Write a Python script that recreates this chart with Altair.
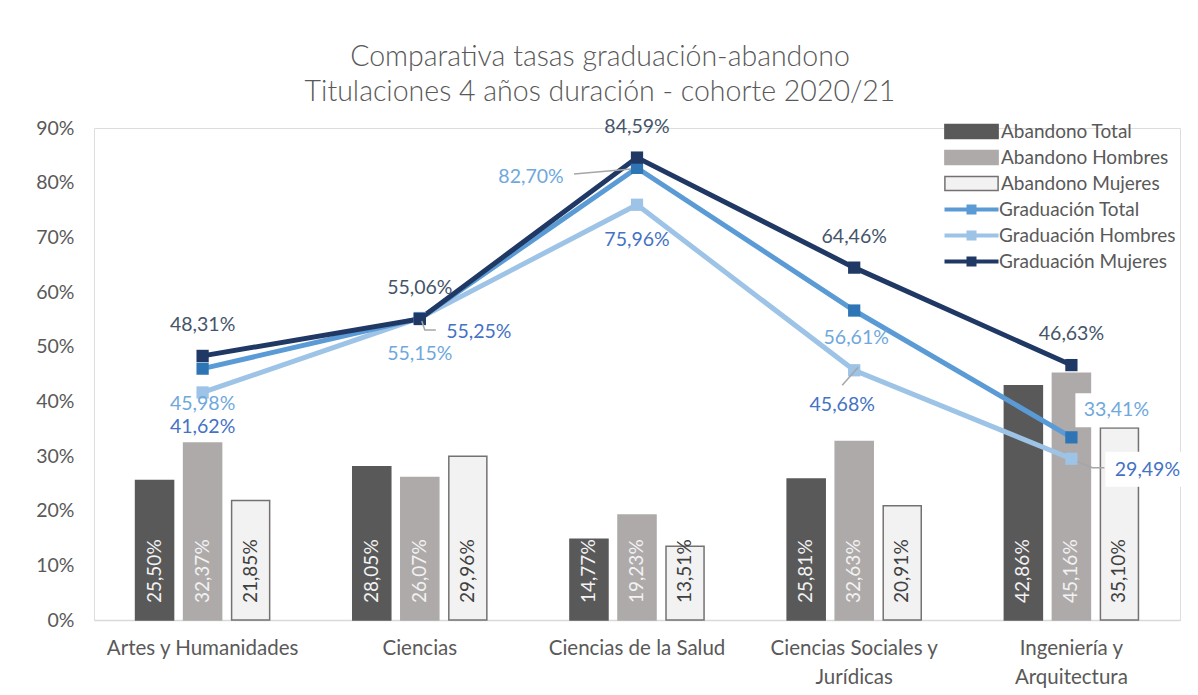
import altair as alt
import pandas as pd

categorias = ["Artes y Humanidades", "Ciencias", "Ciencias de la Salud",
              "Ciencias Sociales y Jurídicas", "Ingeniería y Arquitectura"]

abandono_total = [25.50, 28.05, 14.77, 25.81, 42.86]
abandono_hombres = [32.37, 26.07, 19.23, 32.63, 45.16]
abandono_mujeres = [21.85, 29.96, 13.51, 20.91, 35.10]

graduacion_total = [45.98, 55.15, 82.70, 56.61, 33.41]
graduacion_hombres = [41.62, 55.25, 75.96, 45.68, 29.49]
graduacion_mujeres = [48.31, 55.06, 84.59, 64.46, 46.63]

series_bar = ["Abandono Total", "Abandono Hombres", "Abandono Mujeres"]
series_line = ["Graduación Total", "Graduación Hombres", "Graduación Mujeres"]

FONT = "Lato"
TXT = "#595959"

# label placement per line point (style only)
label_place = {
    "Graduación Mujeres": ["above"] * 5,
    "Graduación Total": ["below", "below", "left", "below_s", "upright"],
    "Graduación Hombres": ["below", "right", "below", "below_l", "farright"],
}
offsets = {
    "above": (0, -31),
    "below": (0, 35),
    "below_s": (2, 27),
    "below_l": (-12, 35),
    "left": (-106, 9),
    "right": (59, 14),
    "upright": (45, -27),
    "farright": (76, 11),
}
# leader lines and label boxes drawn as symbol paths relative to the point (size=4 -> 1 unit = 1 px)
leader_paths = {
    "left": "M-63,6L-6,1",
    "right": "M2,3L5,12H16",
    "below_l": "M-12,15L4,-3",
    "farright": "M6,3L21,9H33",
}
box_paths = {
    "upright": "M4,-44H86V-10H4Z",
    "farright": "M34,-7H118V28H34Z",
}

rows = []
for serie, vals in zip(series_bar, [abandono_total, abandono_hombres, abandono_mujeres]):
    for c, v in zip(categorias, vals):
        rows.append({"cat": c, "serie": serie, "v": v})
bars = pd.DataFrame(rows)

draw_order = ["Graduación Hombres", "Graduación Total", "Graduación Mujeres"]
vals_by = dict(zip(series_line, [graduacion_total, graduacion_hombres, graduacion_mujeres]))
rows = []
for serie in draw_order:
    for c, v, p in zip(categorias, vals_by[serie], label_place[serie]):
        rows.append({"cat": c, "serie": serie, "v": v, "place": p})
lines = pd.DataFrame(rows)

label_expr = "replace(format(datum.v, '.2f'), '.', ',') + '%'"

x_scale = alt.Scale(domain=categorias, paddingInner=0, paddingOuter=0)
y_scale = alt.Scale(domain=[0, 90], nice=False)
xoff_scale = alt.Scale(domain=series_bar, paddingInner=0.208, paddingOuter=0.865)

x_axis = alt.Axis(
    title=None, labelAngle=0, ticks=False, domainColor="#D9D9D9", domainWidth=1.5,
    labelFont=FONT, labelFontSize=20.5, labelColor=TXT, labelPadding=18,
    labelLineHeight=29, labelLimit=300,
    labelExpr="datum.label == 'Ciencias Sociales y Jurídicas' ? ['Ciencias Sociales y', 'Jurídicas'] : "
              "datum.label == 'Ingeniería y Arquitectura' ? ['Ingeniería y', 'Arquitectura'] : datum.label",
)
y_axis = alt.Axis(
    title=None, values=list(range(0, 91, 10)), labelExpr="datum.value + '%'", grid=False,
    domain=False, ticks=False, labelFont=FONT, labelFontSize=19.5,
    labelColor=TXT, labelPadding=20,
)

bar_legend = alt.Legend(
    title=None, orient="none", legendX=848, legendY=-6,
    symbolType="M-3.8,-1H3.8V1H-3.8Z", symbolSize=196,
    symbolStrokeWidth=1.5, symbolOpacity=1, symbolOffset=20, labelOffset=20,
    labelFont=FONT, labelFontSize=19, labelColor=TXT, rowPadding=5,
    labelLimit=300,
)
bar_layer = alt.Chart(bars).mark_bar(strokeWidth=1.5).encode(
    x=alt.X("cat:N", scale=x_scale, axis=x_axis, sort=categorias),
    xOffset=alt.XOffset("serie:N", sort=series_bar, scale=xoff_scale),
    y=alt.Y("v:Q", scale=y_scale, axis=y_axis),
    fill=alt.Fill("serie:N", sort=series_bar,
                  scale=alt.Scale(domain=series_bar, range=["#595959", "#AEAAAA", "#F2F2F2"]),
                  legend=bar_legend),
    stroke=alt.Stroke("serie:N", sort=series_bar,
                      scale=alt.Scale(domain=series_bar, range=["#595959", "#AEAAAA", "#767171"]),
                      legend=bar_legend),
)

bar_text = alt.Chart(bars).transform_calculate(lab=label_expr).mark_text(
    angle=270, align="left", baseline="middle", dx=17, font=FONT, fontSize=19,
).encode(
    x=alt.X("cat:N", scale=x_scale, sort=categorias),
    xOffset=alt.XOffset("serie:N", sort=series_bar, scale=xoff_scale),
    y=alt.datum(0),
    text="lab:N",
    color=alt.condition("datum.serie === 'Abandono Mujeres'", alt.value("#404040"), alt.value("#F2F2F2")),
)

line_colors = ["#5B9BD5", "#9DC3E6", "#203864"]
marker_colors = ["#2E75B6", "#9DC3E6", "#1F3864"]
label_colors = {"Graduación Total": "#6FA8DC", "Graduación Hombres": "#4472C4",
                "Graduación Mujeres": "#44546A"}

line_legend = alt.Legend(
    title=None, orient="none", legendX=848, legendY=72,
    symbolType="M-5.4,0H5.4M-0.6,-0.6H0.6V0.6H-0.6Z", symbolSize=100,
    symbolStrokeWidth=4, symbolOpacity=1, symbolOffset=20, labelOffset=18,
    labelFont=FONT, labelFontSize=19, labelColor=TXT, rowPadding=3,
    labelLimit=300,
)

box_layers = []
for place, path in box_paths.items():
    box_layers.append(
        alt.Chart(lines).transform_filter(alt.datum.place == place).mark_point(
            shape=path, size=4, filled=True, fill="white", opacity=1, strokeWidth=0,
        ).encode(
            x=alt.X("cat:N", scale=x_scale, sort=categorias),
            y=alt.Y("v:Q", scale=y_scale),
        )
    )

line_layer = alt.Chart(lines).mark_line(strokeWidth=5).encode(
    x=alt.X("cat:N", scale=x_scale, sort=categorias),
    y=alt.Y("v:Q", scale=y_scale),
    stroke=alt.Stroke("serie:N", sort=series_line,
                      scale=alt.Scale(domain=series_line, range=line_colors), legend=None),
    detail="serie:N",
)
square_layer = alt.Chart(lines).mark_square(size=150, opacity=1, strokeWidth=0, filled=True).encode(
    x=alt.X("cat:N", scale=x_scale, sort=categorias),
    y=alt.Y("v:Q", scale=y_scale),
    fill=alt.Fill("serie:N", sort=series_line,
                  scale=alt.Scale(domain=series_line, range=marker_colors), legend=line_legend),
    stroke=alt.Stroke("serie:N", sort=series_line,
                      scale=alt.Scale(domain=series_line, range=line_colors), legend=line_legend),
)

leader_layers = []
for place, path in leader_paths.items():
    leader_layers.append(
        alt.Chart(lines).transform_filter(alt.datum.place == place).mark_point(
            shape=path, size=4, filled=False, stroke="#A6A6A6", strokeWidth=1.5, opacity=1,
        ).encode(
            x=alt.X("cat:N", scale=x_scale, sort=categorias),
            y=alt.Y("v:Q", scale=y_scale),
        )
    )

text_layers = []
for s in series_line:
    for place, (dx, dy) in offsets.items():
        text_layers.append(
            alt.Chart(lines).transform_filter(
                (alt.datum.serie == s) & (alt.datum.place == place)
            ).transform_calculate(lab=label_expr).mark_text(
                dx=dx, dy=dy, font=FONT, fontSize=19.5, color=label_colors[s],
            ).encode(
                x=alt.X("cat:N", scale=x_scale, sort=categorias),
                y=alt.Y("v:Q", scale=y_scale),
                text="lab:N",
            )
        )

chart = alt.layer(
    bar_layer, bar_text, *box_layers, line_layer, square_layer, *leader_layers, *text_layers
).resolve_scale(
    stroke="independent", fill="independent"
).properties(
    width=1086, height=492,
    autosize=alt.AutoSizeParams(type="none"),
    padding={"left": 86, "top": 120, "right": 10, "bottom": 75},
    title=alt.TitleParams(
        text=["Comparativa tasas graduación-abandono", "Titulaciones 4 años duración - cohorte 2020/21"],
        font=FONT, fontSize=28.5, fontWeight=300, color=TXT, lineHeight=35,
        anchor="middle", dx=-37, offset=10,
    ),
).configure_view(stroke=None).configure(background="white")

chart.save("out.html", embed_options={"renderer": "svg", "actions": False})
